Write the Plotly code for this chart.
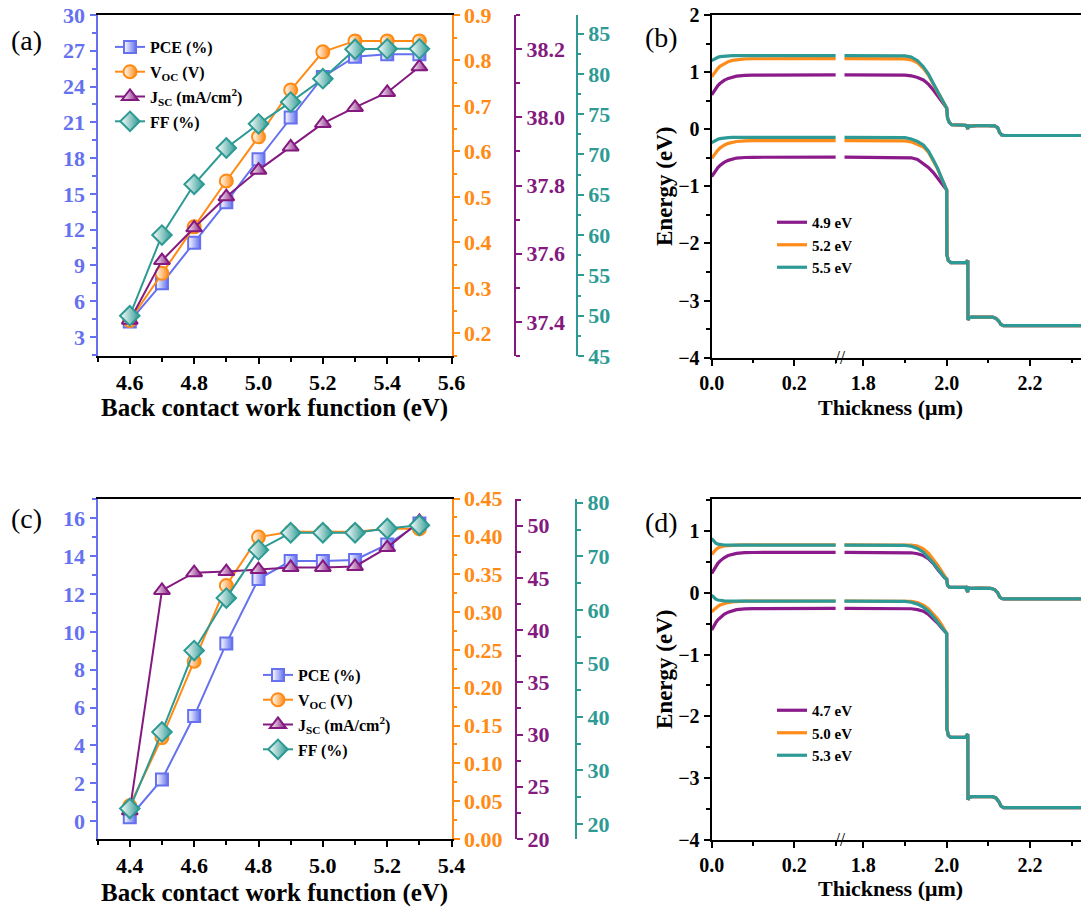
import plotly.graph_objects as go

# ---------------- device parameters vs. back contact work function ----------------
wf_a = [4.6, 4.7, 4.8, 4.9, 5.0, 5.1, 5.2, 5.3, 5.4, 5.5]
pce_a = [4.3, 7.5, 10.9, 14.3, 17.9, 21.4, 24.8, 26.5, 26.7, 26.7]
voc_a = [0.228, 0.332, 0.434, 0.535, 0.632, 0.735, 0.819, 0.843, 0.843, 0.843]
jsc_a = [37.405, 37.58, 37.676, 37.767, 37.845, 37.913, 37.982, 38.029, 38.073, 38.148]
ff_a = [50.0, 60.0, 66.3, 70.8, 73.8, 76.5, 79.4, 83.05, 83.1, 83.1]

wf_c = [4.4, 4.5, 4.6, 4.7, 4.8, 4.9, 5.0, 5.1, 5.2, 5.3]
pce_c = [0.2, 2.2, 5.55, 9.39, 12.79, 13.74, 13.74, 13.8, 14.62, 15.73]
voc_c = [0.044, 0.134, 0.235, 0.335, 0.399, 0.406, 0.406, 0.406, 0.41, 0.41]
jsc_c = [22.7, 43.8, 45.5, 45.6, 45.8, 46.0, 46.0, 46.1, 47.9, 50.4]
ff_c = [22.9, 37.2, 52.4, 62.2, 71.2, 74.4, 74.4, 74.4, 75.2, 75.8]

# ---------------- energy band profiles ----------------
t_left = [0.0, 0.005, 0.01, 0.015, 0.02, 0.03, 0.04, 0.05, 0.06, 0.08, 0.10, 0.30]
t_bulk = [1.755, 1.88, 1.90, 1.915, 1.93, 1.944, 1.956, 1.968, 1.978, 1.988, 1.995, 2.0]
t_cb_junc = [2.002, 2.006, 2.012, 2.045, 2.0495, 2.0505, 2.051, 2.056, 2.08, 2.105,
             2.115, 2.122, 2.127, 2.132, 2.138, 2.322]
t_vb_junc = [2.0005, 2.004, 2.01, 2.045, 2.049, 2.0505, 2.051, 2.054, 2.06, 2.11,
             2.118, 2.125, 2.13, 2.136, 2.322]

# panel (b): 4.9 / 5.2 / 5.5 eV
b_labels = ["4.9 eV", "5.2 eV", "5.5 eV"]
b_cb_left = [
    [0.60, 0.66, 0.72, 0.765, 0.80, 0.855, 0.89, 0.915, 0.93, 0.943, 0.948, 0.95],
    [0.92, 0.975, 1.025, 1.065, 1.10, 1.15, 1.183, 1.205, 1.218, 1.23, 1.234, 1.235],
    [1.20, 1.225, 1.245, 1.26, 1.27, 1.28, 1.285, 1.287, 1.288, 1.288, 1.288, 1.288],
]
b_vb_left = [
    [-0.83, -0.77, -0.715, -0.67, -0.635, -0.58, -0.545, -0.52, -0.505, -0.495, -0.491, -0.49],
    [-0.51, -0.455, -0.405, -0.365, -0.33, -0.28, -0.248, -0.228, -0.215, -0.205, -0.201, -0.20],
    [-0.235, -0.21, -0.19, -0.175, -0.165, -0.152, -0.147, -0.144, -0.143, -0.142, -0.142, -0.142],
]
b_cb_bulk = [
    [0.95, 0.95, 0.948, 0.935, 0.905, 0.862, 0.79, 0.687, 0.59, 0.49, 0.42, 0.37],
    [1.235, 1.235, 1.232, 1.215, 1.165, 1.067, 0.95, 0.79, 0.655, 0.515, 0.43, 0.37],
    [1.288, 1.288, 1.285, 1.265, 1.20, 1.095, 0.97, 0.80, 0.66, 0.52, 0.43, 0.37],
]
b_vb_bulk = [
    [-0.49, -0.49, -0.492, -0.50, -0.53, -0.597, -0.67, -0.76, -0.85, -0.95, -1.02, -1.064],
    [-0.20, -0.20, -0.203, -0.22, -0.26, -0.31, -0.40, -0.55, -0.69, -0.86, -0.98, -1.064],
    [-0.142, -0.142, -0.148, -0.17, -0.215, -0.276, -0.38, -0.539, -0.68, -0.86, -0.98, -1.064],
]
b_cb_junc = [0.20, 0.12, 0.078, 0.07, 0.03, 0.0, 0.06, 0.055, 0.065, 0.07,
             0.06, 0.03, -0.06, -0.10, -0.11, -0.11]
b_vb_junc = [-2.2, -2.30, -2.335, -2.335, -2.31, -2.30, -3.34, -3.30, -3.29, -3.29,
             -3.31, -3.36, -3.42, -3.44, -3.44]

# panel (d): 4.7 / 5.0 / 5.3 eV
d_labels = ["4.7 eV", "5.0 eV", "5.3 eV"]
d_cb_left = [
    [0.311, 0.375, 0.43, 0.475, 0.51, 0.565, 0.60, 0.622, 0.635, 0.646, 0.65, 0.651],
    [0.618, 0.66, 0.695, 0.72, 0.737, 0.755, 0.763, 0.768, 0.77, 0.772, 0.772, 0.772],
    [0.877, 0.83, 0.80, 0.785, 0.777, 0.771, 0.769, 0.768, 0.768, 0.768, 0.768, 0.768],
]
d_vb_left = [
    [-0.605, -0.54, -0.485, -0.44, -0.405, -0.35, -0.315, -0.29, -0.275, -0.262, -0.257, -0.255],
    [-0.31, -0.275, -0.245, -0.22, -0.20, -0.175, -0.16, -0.15, -0.144, -0.138, -0.136, -0.135],
    [-0.04, -0.08, -0.105, -0.118, -0.127, -0.134, -0.136, -0.137, -0.137, -0.137, -0.137, -0.137],
]
d_cb_bulk = [
    [0.651, 0.651, 0.65, 0.645, 0.63, 0.60, 0.55, 0.47, 0.38, 0.29, 0.24, 0.22],
    [0.772, 0.772, 0.772, 0.77, 0.755, 0.71, 0.64, 0.545, 0.45, 0.345, 0.27, 0.22],
    [0.768, 0.768, 0.765, 0.75, 0.715, 0.655, 0.575, 0.48, 0.39, 0.30, 0.245, 0.22],
]
d_vb_bulk = [
    [-0.255, -0.255, -0.256, -0.26, -0.275, -0.30, -0.35, -0.42, -0.49, -0.57, -0.625, -0.66],
    [-0.135, -0.135, -0.135, -0.14, -0.16, -0.20, -0.26, -0.34, -0.42, -0.52, -0.60, -0.66],
    [-0.137, -0.137, -0.14, -0.155, -0.185, -0.235, -0.30, -0.39, -0.47, -0.56, -0.625, -0.66],
]
d_cb_junc = [0.12, 0.09, 0.085, 0.085, 0.04, 0.01, 0.08, 0.07, 0.075, 0.07,
             0.05, 0.0, -0.07, -0.095, -0.10, -0.10]
d_vb_junc = [-2.2, -2.31, -2.34, -2.34, -2.30, -2.29, -3.35, -3.31, -3.30, -3.30,
             -3.32, -3.38, -3.45, -3.475, -3.475]

# ---------------- styling ----------------
BLUE = "#6571EE"
ORANGE = "#FF8A14"
PURPLE = "#84197F"
TEAL = "#2E9A94"
BAND_COLORS = ["#8B1A8B", "#FF8C1A", "#2E9A96"]
SERIF = "Liberation Serif"
W, H = 1081, 911


def px(xp):
    return xp / W


def py(yp):
    return 1 - yp / H


fig = go.Figure()


def param_trace(x, y, name, color, symbol, size, xa, ya, legend):
    fig.add_trace(go.Scatter(
        x=x, y=y, name=name, mode="lines+markers", xaxis=xa, yaxis=ya,
        legend=legend, legendgroup=legend + name,
        line=dict(color=color, width=2),
        marker=dict(symbol=symbol, size=size, color="white",
                    gradient=dict(type="horizontal", color=color),
                    line=dict(color=color, width=2)),
    ))


names = ["PCE (%)", "V<sub>OC</sub> (V)", "J<sub>SC</sub> (mA/cm<sup>2</sup>)", "FF (%)"]
cols = [BLUE, ORANGE, PURPLE, TEAL]
syms = [("square", 12), ("circle", 13), ("triangle-up", 14), ("diamond", 15)]

for vals, nm, c, (s, sz), ya in zip([pce_a, voc_a, jsc_a, ff_a], names, cols, syms,
                                   ["y", "y2", "y3", "y4"]):
    param_trace(wf_a, vals, nm, c, s, sz, "x", ya, "legend")
for vals, nm, c, (s, sz), ya in zip([pce_c, voc_c, jsc_c, ff_c], names, cols, syms,
                                   ["y6", "y7", "y8", "y9"]):
    param_trace(wf_c, vals, nm, c, s, sz, "x4", ya, "legend3")


def band_traces(labels, cbl, vbl, cbb, vbb, cbj, vbj, xl, xr, ya, legend):
    for i, lab in enumerate(labels):
        c = BAND_COLORS[i]
        ln = dict(color=c, width=3.2)
        fig.add_trace(go.Scatter(x=t_left, y=cbl[i], xaxis=xl, yaxis=ya, mode="lines",
                                 line=ln, name=lab, legend=legend, showlegend=True))
        fig.add_trace(go.Scatter(x=t_left, y=vbl[i], xaxis=xl, yaxis=ya, mode="lines",
                                 line=ln, showlegend=False))
        fig.add_trace(go.Scatter(x=t_bulk + t_cb_junc, y=cbb[i] + cbj, xaxis=xr, yaxis=ya,
                                 mode="lines", line=ln, showlegend=False))
        fig.add_trace(go.Scatter(x=t_bulk + t_vb_junc, y=vbb[i] + vbj, xaxis=xr, yaxis=ya,
                                 mode="lines", line=ln, showlegend=False))


band_traces(b_labels, b_cb_left, b_vb_left, b_cb_bulk, b_vb_bulk, b_cb_junc, b_vb_junc,
            "x2", "x3", "y5", "legend2")
band_traces(d_labels, d_cb_left, d_vb_left, d_cb_bulk, d_vb_bulk, d_cb_junc, d_vb_junc,
            "x5", "x6", "y10", "legend4")


def tf(size, color="black"):
    return dict(family=SERIF, size=size, color=color, weight="bold")


def xax(domain, rng, anchor, tick0, dtick, size, minor):
    return dict(domain=domain, range=rng, anchor=anchor, tick0=tick0, dtick=dtick,
                showline=True, linecolor="black", linewidth=2, mirror=True,
                ticks="outside", ticklen=6, tickwidth=2, tickcolor="black",
                minor=dict(dtick=minor, ticks="outside", ticklen=3.5, tickwidth=1.5,
                           tickcolor="black"),
                tickfont=tf(size), showgrid=False, zeroline=False, fixedrange=True,
                tickformat=".1f")


def yax(domain, rng, color, tick0, dtick, minor, size, **kw):
    d = dict(domain=domain, range=rng, tick0=tick0, dtick=dtick,
             showline=True, linecolor=color, linewidth=2.2,
             ticks="outside", ticklen=6, tickwidth=2, tickcolor=color,
             minor=dict(dtick=minor, ticks="outside", ticklen=3.5, tickwidth=1.5,
                        tickcolor=color),
             tickfont=tf(size, color), showgrid=False, zeroline=False, mirror=False)
    d.update(kw)
    return d


dom_a = [py(356), py(15)]
dom_c = [py(839), py(498.5)]
dom_b = [py(357.7), py(15)]
dom_d = [py(840), py(499.3)]
xdom_ac = [px(97.6), px(451.6)]
xdom_l = [px(711.7), px(839.5)]
xdom_r = [px(839.5), 1.0]

layout = dict(
    width=W, height=H,
    margin=dict(l=0, r=0, t=0, b=0, pad=0, autoexpand=False),
    paper_bgcolor="white", plot_bgcolor="white", showlegend=True,
    # panel (a)
    xaxis=xax(xdom_ac, [4.5, 5.6], "y", 4.6, 0.2, 22, 0.1),
    yaxis=yax(dom_a, [1.4, 30], BLUE, 3, 3, 1.5, 22, anchor="x", tickformat="d"),
    yaxis2=yax(dom_a, [0.15, 0.9], ORANGE, 0.2, 0.1, 0.05, 22, anchor="x",
               overlaying="y", side="right", tickformat=".1f"),
    yaxis3=yax(dom_a, [37.3, 38.3], PURPLE, 37.4, 0.2, 0.1, 22, anchor="free",
               overlaying="y", side="right", position=px(515), tickformat=".1f"),
    yaxis4=yax(dom_a, [45, 87.3], TEAL, 45, 5, 2.5, 22, anchor="free",
               overlaying="y", side="right", position=px(576.7), tickformat="d"),
    # panel (b)
    xaxis2=xax(xdom_l, [0, 0.3094], "y5", 0, 0.2, 20, 0.1),
    xaxis3=xax(xdom_r, [1.743, 2.322], "y5", 1.8, 0.2, 20, 0.1),
    yaxis5=yax(dom_b, [-4, 2], "black", -4, 1, 0.5, 20, anchor="x2", tickformat="d"),
    # panel (c)
    xaxis4=xax(xdom_ac, [4.3, 5.4], "y6", 4.4, 0.2, 22, 0.1),
    yaxis6=yax(dom_c, [-0.95, 17.05], BLUE, 0, 2, 1, 22, anchor="x4", tickformat="d"),
    yaxis7=yax(dom_c, [0, 0.45], ORANGE, 0, 0.05, 0.025, 22, anchor="x4",
               overlaying="y6", side="right", tickformat=".2f"),
    yaxis8=yax(dom_c, [20, 52.6], PURPLE, 20, 5, 2.5, 22, anchor="free",
               overlaying="y6", side="right", position=px(516), tickformat="d"),
    yaxis9=yax(dom_c, [17.2, 80.8], TEAL, 20, 10, 5, 22, anchor="free",
               overlaying="y6", side="right", position=px(576), tickformat="d"),
    # panel (d)
    xaxis5=xax(xdom_l, [0, 0.3094], "y10", 0, 0.2, 20, 0.1),
    xaxis6=xax(xdom_r, [1.743, 2.322], "y10", 1.8, 0.2, 20, 0.1),
    yaxis10=yax(dom_d, [-4, 1.51], "black", -4, 1, 0.5, 20, anchor="x5", tickformat="d"),
)
fig.update_layout(**layout)

leg_param = dict(font=tf(16), bgcolor="rgba(0,0,0,0)", borderwidth=0,
                 xanchor="left", yanchor="top", tracegroupgap=1, itemwidth=30)
leg_band = dict(font=tf(15), bgcolor="rgba(0,0,0,0)", borderwidth=0,
                xanchor="left", yanchor="top", itemwidth=30)
fig.update_layout(
    legend=dict(x=px(110), y=py(30), **leg_param),
    legend3=dict(x=px(258), y=py(658), **leg_param),
    legend2=dict(x=px(772), y=py(206), **leg_band),
    legend4=dict(x=px(772), y=py(694), **leg_band),
)

ann = []
for txt, x, y in [("(a)", 26, 40), ("(b)", 661, 38), ("(c)", 26, 518), ("(d)", 661, 522)]:
    ann.append(dict(text=txt, x=px(x), y=py(y), xref="paper", yref="paper",
                    xanchor="center", yanchor="middle", showarrow=False,
                    font=dict(family=SERIF, size=28, color="black")))
for txt, x, y in [("Back contact work function (eV)", 274, 408),
                  ("Back contact work function (eV)", 274, 893)]:
    ann.append(dict(text=txt, x=px(x), y=py(y), xref="paper", yref="paper",
                    xanchor="center", yanchor="middle", showarrow=False, font=tf(25)))
for txt, x, y in [("Thickness (μm)", 890, 407), ("Thickness (μm)", 890, 888)]:
    ann.append(dict(text=txt, x=px(x), y=py(y), xref="paper", yref="paper",
                    xanchor="center", yanchor="middle", showarrow=False, font=tf(22)))
for y in [187, 670]:
    ann.append(dict(text="Energy (eV)", x=px(664), y=py(y), xref="paper", yref="paper",
                    xanchor="center", yanchor="middle", showarrow=False,
                    textangle=-90, font=tf(23)))
for y in [357.7, 840]:
    ann.append(dict(text="//", x=px(840), y=py(y), xref="paper", yref="paper",
                    xanchor="center", yanchor="middle", showarrow=False,
                    font=dict(family=SERIF, size=18, color="black")))
fig.update_layout(annotations=ann)

fig.write_html("out.html")
